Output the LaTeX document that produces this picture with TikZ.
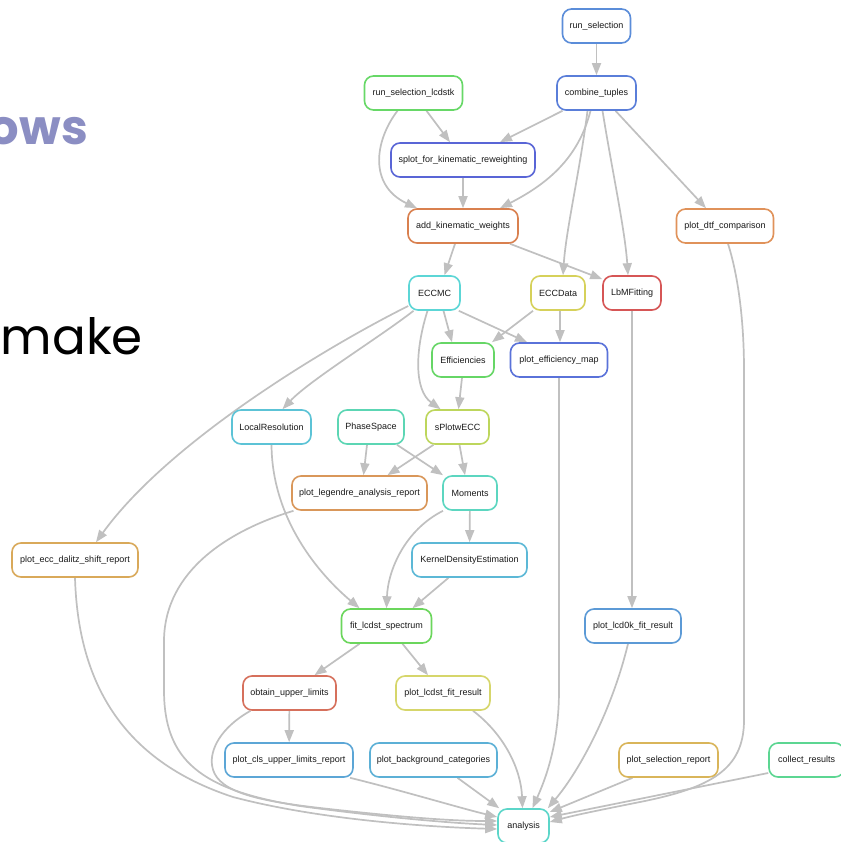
\documentclass[tikz,border=0pt]{standalone}
\usepackage{fontspec}
\setmainfont{Liberation Sans}
\newfontfamily\popfont{Poppins}
\usetikzlibrary{arrows.meta,backgrounds}
\definecolor{edgec}{HTML}{C0C0C0}
\definecolor{cRS}{HTML}{5B8DD9}
\definecolor{cRSL}{HTML}{67D867}
\definecolor{cCT}{HTML}{5A7ED9}
\definecolor{cSPK}{HTML}{5965D6}
\definecolor{cAKW}{HTML}{D9804F}
\definecolor{cDTF}{HTML}{E0925A}
\definecolor{cECCMC}{HTML}{5CD6D6}
\definecolor{cECCD}{HTML}{D6D15A}
\definecolor{cLBM}{HTML}{D65656}
\definecolor{cEFF}{HTML}{66D666}
\definecolor{cPEM}{HTML}{5A72D9}
\definecolor{cLR}{HTML}{5CC3D6}
\definecolor{cPS}{HTML}{5CD6B4}
\definecolor{cSPW}{HTML}{BDD65C}
\definecolor{cPLA}{HTML}{D9975A}
\definecolor{cMOM}{HTML}{5CD6C0}
\definecolor{cPED}{HTML}{D9A95A}
\definecolor{cKDE}{HTML}{5CB8D6}
\definecolor{cFLS}{HTML}{6BD65C}
\definecolor{cPLK}{HTML}{5C9AD6}
\definecolor{cOUL}{HTML}{D6705C}
\definecolor{cPLF}{HTML}{D6D66B}
\definecolor{cPCLS}{HTML}{5CA6D6}
\definecolor{cPBC}{HTML}{5CB0D6}
\definecolor{cPSR}{HTML}{D9B55A}
\definecolor{cCR}{HTML}{5CD692}
\definecolor{cANA}{HTML}{5CD6C9}
\definecolor{titlec}{HTML}{8B8EC3}
\tikzset{
  job/.style={draw=#1, fill=white, rounded corners=9pt, line width=1.6pt,
    minimum height=34pt, inner xsep=3pt, inner ysep=2pt,
    font=\fontsize{9}{10}\selectfont, text=black!90},
  e/.style={draw=edgec, line width=1.7pt, -{Triangle[length=12pt,width=9pt]}},
  bigtext/.style={inner sep=0pt, anchor=base east, font=\popfont\fontsize{50}{50}\selectfont}
}
\begin{document}
\begin{tikzpicture}[x=1pt,y=-1pt]
\useasboundingbox (0,0) rectangle (840,842);
\node[bigtext, text=titlec, font=\popfont\bfseries\fontsize{48}{48}\selectfont] (ows) at (88,145) {ows};
\node[bigtext, text=black] (mk) at (143,354) {make};

\node[job=cRS, minimum width=68pt] (rs) at (596.5,26) {run\_selection};
\node[job=cRSL, minimum width=98pt] (rsl) at (413.5,93) {run\_selection\_lcdstk};
\node[job=cCT, minimum width=79pt] (ct) at (596.5,93) {combine\_tuples};
\node[job=cSPK, minimum width=144pt] (spk) at (463,160) {splot\_for\_kinematic\_reweighting};
\node[job=cAKW, minimum width=110pt] (akw) at (463,226) {add\_kinematic\_weights};
\node[job=cDTF, minimum width=97pt] (dtf) at (725,226) {plot\_dtf\_comparison};
\node[job=cECCMC, minimum width=51pt] (eccmc) at (434.5,293) {ECCMC};
\node[job=cECCD, minimum width=54pt] (eccd) at (558,293) {ECCData};
\node[job=cLBM, minimum width=58pt] (lbm) at (632,293) {LbMFitting};
\node[job=cEFF, minimum width=62pt] (eff) at (463,360) {Efficiencies};
\node[job=cPEM, minimum width=97pt] (pem) at (559,360) {plot\_efficiency\_map};
\node[job=cLR, minimum width=79pt] (lr) at (271.5,427) {LocalResolution};
\node[job=cPS, minimum width=66pt] (ps) at (371,427) {PhaseSpace};
\node[job=cSPW, minimum width=63pt] (spw) at (457.5,427) {sPlotwECC};
\node[job=cPLA, minimum width=135pt] (pla) at (359.5,493) {plot\_legendre\_analysis\_report};
\node[job=cMOM, minimum width=54pt] (mom) at (470,493) {Moments};
\node[job=cPED, minimum width=126pt] (ped) at (75,560) {plot\_ecc\_dalitz\_shift\_report};
\node[job=cKDE, minimum width=115pt] (kde) at (469.5,560) {KernelDensityEstimation};
\node[job=cFLS, minimum width=90pt] (fls) at (386.5,626) {fit\_lcdst\_spectrum};
\node[job=cPLK, minimum width=96pt] (plk) at (633,626) {plot\_lcd0k\_fit\_result};
\node[job=cOUL, minimum width=93pt] (oul) at (289.5,693) {obtain\_upper\_limits};
\node[job=cPLF, minimum width=94pt] (plf) at (443,693) {plot\_lcdst\_fit\_result};
\node[job=cPCLS, minimum width=128pt] (pcls) at (289,760) {plot\_cls\_upper\_limits\_report};
\node[job=cPBC, minimum width=127pt] (pbc) at (433.5,760) {plot\_background\_categories};
\node[job=cPSR, minimum width=99pt] (psr) at (668.5,760) {plot\_selection\_report};
\node[job=cCR, minimum width=75pt] (cr) at (806.5,760) {collect\_results};
\node[job=cANA, minimum width=51pt] (ana) at (523.5,826) {analysis};

\begin{scope}[on background layer]
\fill[white] (0,0) rectangle (840,842);
\draw[e] (rs) -- (ct);
\draw[e] ([xshift=13]rsl.south) -- ([xshift=-13]spk.north);
\draw[e] ([xshift=-16]rsl.south) .. controls (375,140) and (368,185) .. ([xshift=-46]akw.north);
\draw[e] ([xshift=-34]ct.south) -- ([xshift=37]spk.north);
\draw[e] ([xshift=-6]ct.south) .. controls (578,160) and (545,185) .. ([xshift=37]akw.north);
\draw[e] ([xshift=-9]ct.south) .. controls (580,170) and (566,230) .. ([xshift=5]eccd.north);
\draw[e] ([xshift=6]ct.south) .. controls (612,170) and (625,230) .. ([xshift=-4]lbm.north);
\draw[e] ([xshift=19]ct.south) -- ([xshift=-19]dtf.north);
\draw[e] (spk) -- (akw);
\draw[e] ([xshift=-8]akw.south) -- ([xshift=10]eccmc.north);
\draw[e] ([xshift=47]akw.south) -- (lbm.155);
\draw[e] ([yshift=-13]eccmc.west) .. controls (330,345) and (170,440) .. ([xshift=21]ped.north);
\draw[e] ([xshift=-21]eccmc.south) .. controls (380,337) and (310,380) .. ([xshift=11]lr.north);
\draw[e] ([xshift=9]eccmc.south) -- ([xshift=-11]eff.north);
\draw[e] ([xshift=-2]eccmc.south east) -- ([xshift=-32]pem.north);
\draw[e] ([xshift=-7]eccmc.south) .. controls (415,350) and (414,390) .. ([xshift=-17]spw.north);
\draw[e] ([xshift=-25]eccd.south) -- ([xshift=29]eff.north);
\draw[e] ([xshift=2]eccd.south) -- ([xshift=1]pem.north);
\draw[e] ([xshift=-1]eff.south) -- ([xshift=1]spw.north);
\draw[e] (lbm.south) -- ([xshift=-1]plk.north);
\draw[e] ([xshift=-4]ps.south) -- ([xshift=4]pla.north);
\draw[e] ([xshift=26]ps.south) -- ([xshift=-27]mom.north);
\draw[e] ([xshift=-24]spw.south) -- ([xshift=28]pla.north);
\draw[e] ([xshift=2]spw.south) -- ([xshift=-5]mom.north);
\draw[e] (mom) -- (kde);
\draw[e] ([xshift=-27]mom.south) .. controls (405,530) and (388,570) .. (fls.north);
\draw[e] (lr.south) .. controls (272,520) and (320,575) .. ([xshift=-27]fls.north);
\draw[e] ([xshift=-21]kde.south) -- ([xshift=26]fls.north);
\draw[e] ([xshift=-27]fls.south) -- ([xshift=25]oul.north);
\draw[e] ([xshift=16]fls.south) -- ([xshift=-15]plf.north);
\draw[e] (oul) -- (pcls);
\draw[e] ([xshift=-39]oul.south) .. controls (220,728) and (210,750) .. (212,765)
   .. controls (215,790) and (250,800) .. (320,808) .. controls (400,817) and (450,821) .. ([yshift=5]ana.west);
\draw[e] ([xshift=-66]pla.south) .. controls (230,530) and (165,570) .. (164,640) -- (164,690)
   .. controls (164,760) and (200,790) .. (300,806) .. controls (380,817) and (450,823) .. ([yshift=1]ana.west);
\draw[e] (ped.south) .. controls (78,680) and (120,760) .. (233,797)
   .. controls (320,820) and (430,827) .. ([yshift=-3]ana.west);
\draw[e] ([xshift=61]pcls.south) .. controls (400,790) and (460,808) .. ([yshift=9]ana.west);
\draw[e] ([xshift=24]pbc.south) -- ([xshift=2]ana.north west);
\draw[e] ([xshift=30]plf.south) .. controls (505,735) and (521,770) .. ([xshift=-1]ana.north);
\draw[e] (pem.south) -- (559,690) .. controls (559,745) and (545,780) .. ([xshift=9]ana.north);
\draw[e] ([xshift=-5]plk.south) .. controls (612,710) and (580,770) .. ([xshift=-2]ana.north east);
\draw[e] ([xshift=-36]psr.south) -- ([yshift=14]ana.east);
\draw[e] ([xshift=3]dtf.south) .. controls (738,275) and (744,320) .. (744,370) -- (744,720)
   .. controls (744,770) and (710,788) .. (640,802) .. controls (600,810) and (575,815) .. ([yshift=4]ana.east);
\draw[e] ([yshift=-13]cr.west) -- ([yshift=9]ana.east);
\end{scope}
\end{tikzpicture}
\end{document}
